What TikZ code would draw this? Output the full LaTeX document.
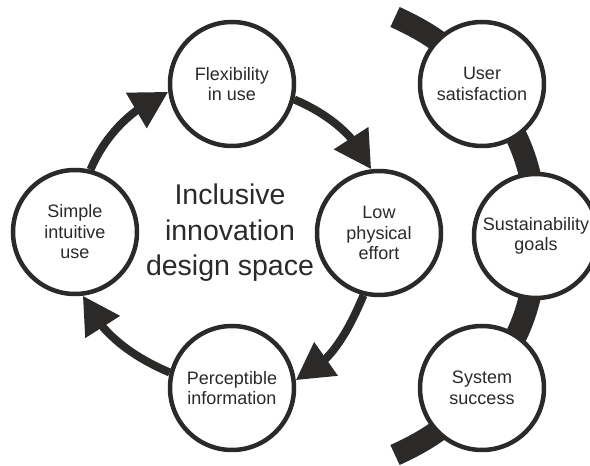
\documentclass[tikz,border=0pt]{standalone}
\usepackage{fontspec}
\setmainfont{Liberation Sans}
\usetikzlibrary{arrows.meta,bending,backgrounds}
\definecolor{ink}{RGB}{43,42,41}

\begin{document}
\begin{tikzpicture}[x=1pt, y=1pt,
		bubble/.style={circle, draw=ink, line width=4.5pt, fill=white, minimum size=124pt, inner sep=0pt, align=center, text=ink, font=\fontsize{18}{20.5}\selectfont},
		cycle/.style={draw=ink, line width=8pt, -{Triangle[length=37pt, width=39pt]}, looseness=0.9},
		band/.style={draw=ink, line width=22pt}]
		\useasboundingbox (0,0) rectangle (590,466);
		\node[bubble] (flex) at (232,382) {Flexibility\\in use};
		\node[bubble] (low) at (379,233) {Low\\physical\\effort};
		\node[bubble] (percep) at (232,78) {Perceptible\\information};
		\node[bubble] (simple) at (75,234) {Simple\\intuitive\\use};
		\node[align=center, text=ink, font=\fontsize{28.5}{35.5}\selectfont] (space) at (230,233) {Inclusive\\innovation\\design space};
		\draw[cycle] (simple.76) to[out=67, in=204] (flex.187);
		\draw[cycle] (flex.-14) to[out=-23, in=114] (low.97);
		\draw[cycle] (low.-104) to[out=-113, in=24] (percep.7);
		\draw[cycle] (percep.166) to[out=157, in=-66] (simple.-83);
		\node[bubble] (user) at (482,382) {User\\satisfaction};
		\node[bubble] (sust) at (536,230) {Sustainability\\goals};
		\node[bubble] (system) at (482,78) {System\\success};
		\coordinate (bandtop) at (395,449);
		\coordinate (bandbot) at (395,11);
		\begin{scope}[on background layer]
			\draw[band] (bandtop) to[bend left=13] (user.center) to[bend left=19.5] (sust.center) to[bend left=19.5] (system.center) to[bend left=13] (bandbot);
		\end{scope}
	\end{tikzpicture}
\end{document}
